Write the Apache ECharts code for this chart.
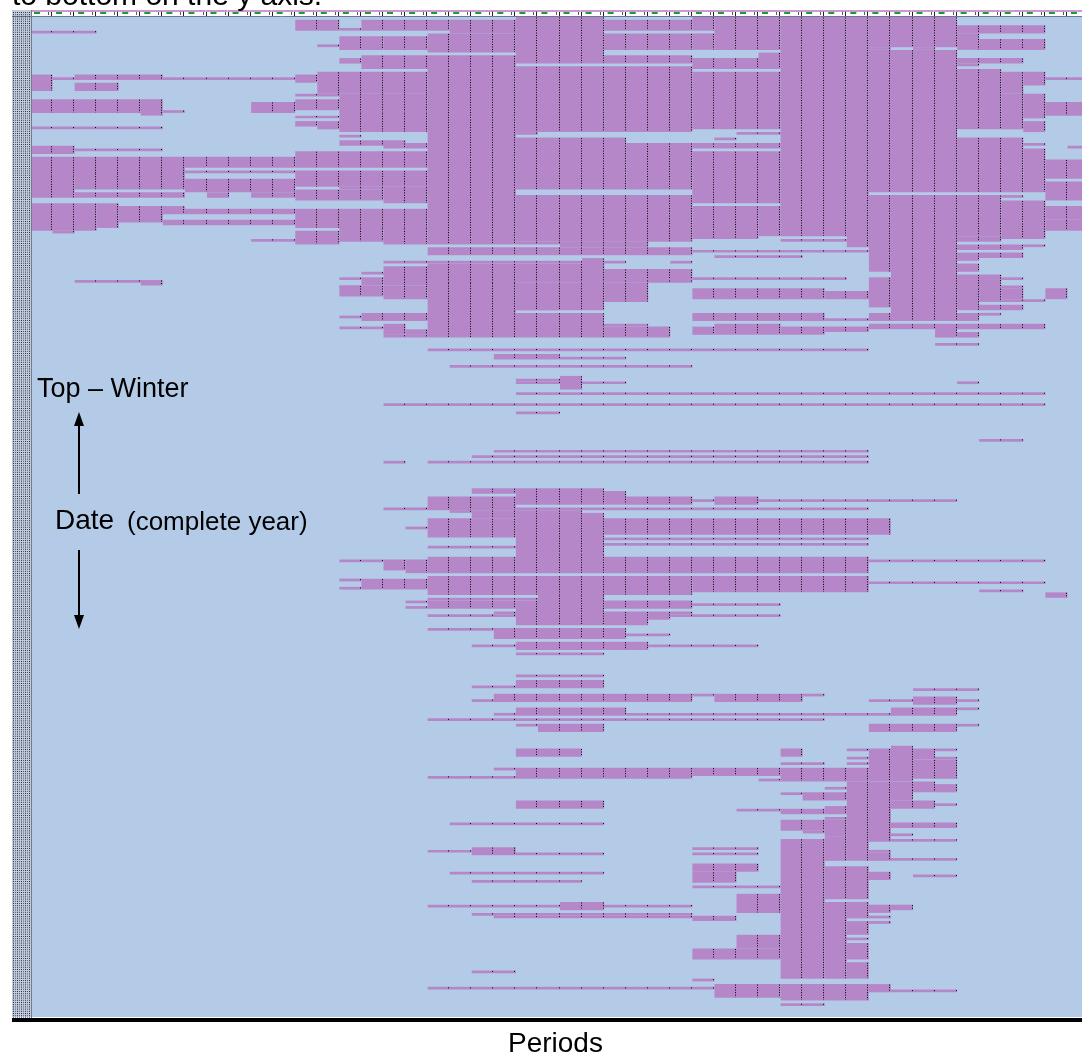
<!DOCTYPE html>
<html>
<head>
<meta charset="utf-8">
<title>Periods by date</title>
<script src="https://cdn.jsdelivr.net/npm/echarts@6/dist/echarts.min.js"></script>
<style>
  html, body { margin: 0; padding: 0; background: #fff; overflow: hidden; }
  #chartBox { width: 1090px; height: 1057px; }
</style>
</head>
<body>
<div id="chartBox"></div>
<script>
  var DAYS = 365;

  // half-hour periods across the x axis
  var periods = [1, 2, 3, 4, 5, 6, 7, 8, 9, 10, 11, 12, 13, 14, 15, 16, 17, 18, 19, 20, 21, 22, 23, 24,
                 25, 26, 27, 28, 29, 30, 31, 32, 33, 34, 35, 36, 37, 38, 39, 40, 41, 42, 43, 44, 45, 46, 47, 48];

  // active runs: [first day, last day, first period, last period] (0-based)
  var winterTop = [
    [5,5,0,2],
    [21,26,0,0],[22,22,1,1],[21,22,2,5],[24,26,2,3],[22,22,6,11],
    [30,34,0,4],[30,35,5,5],[34,34,6,6],[31,34,10,11],
    [40,40,0,5],[47,49,0,1],[48,48,2,5],
    [51,57,0,6],[51,54,7,9],[51,54,10,11],[56,56,7,11],
    [58,65,0,1],[57,62,2,6],[64,65,2,6],[59,63,7,11],[64,65,8,8],[64,65,10,11],
    [68,77,0,2],[68,76,3,3],[69,74,4,5],[69,71,6,6],[70,71,7,11],[74,75,6,11],
    [78,78,1,1],[81,81,10,11],[96,96,2,4],[96,97,5,5],

    [1,4,12,13],[4,4,14,14],[1,4,15,18],[1,5,19,21],
    [0,16,22,25],[18,41,22,25],[1,4,26,29],
    [7,7,14,15],[10,10,13,13],[8,11,14,15],[7,11,16,17],[6,12,18,21],[6,11,26,29],
    [14,18,15,21],[15,16,14,14],[14,16,26,29],[18,41,26,29],
    [21,23,12,12],[20,27,13,17],[19,82,18,21],
    [28,28,12,13],[30,33,12,13],[28,34,14,17],[35,41,14,17],[36,36,12,13],[38,39,12,12],[38,40,13,13],
    [42,42,22,22],[43,43,14,14],[45,46,14,16],[46,47,16,17],
    [49,54,12,17],[56,61,12,17],[62,62,14,15],
    [44,62,22,26],[46,62,27,29],
    [63,66,12,15],[62,67,16,17],[70,76,12,17],[78,82,12,13],[77,81,14,15],[77,82,16,17],
    [65,81,22,29],[82,82,22,25],

    [0,4,30,30],[6,11,30,30],[0,11,31,33],[13,14,33,33],[15,18,30,33],[20,40,30,33],
    [42,42,32,33],[44,44,31,31],[46,47,30,33],[49,67,30,33],[69,80,30,32],[69,79,33,33],
    [0,79,34,36],[81,81,34,36],[0,83,37,37],
    [0,10,38,41],[11,11,38,38],[11,11,40,40],[12,63,38,41],
    [65,92,38,38],[95,105,38,38],[65,107,39,41],
    [3,5,42,45],[6,11,42,42],[8,11,43,45],[15,16,42,44],[17,17,42,42],
    [19,40,42,43],[20,27,44,44],[28,40,44,44],[20,24,45,45],[28,36,45,45],[38,41,45,45],
    [45,45,43,43],[44,63,42,44],[46,46,45,45],[48,63,45,45],
    [65,79,42,43],[65,65,44,44],[67,80,44,45],[80,81,42,43],
    [22,22,46,47],[31,35,46,47],[47,47,47,47],[52,58,46,47],[60,66,46,47],[69,73,46,47],[74,77,46,47]
  ];

  var springMid = [
    [83,84,42,44],[83,83,45,45],[86,88,42,42],[86,87,43,44],[90,92,42,42],
    [94,98,42,43],[95,95,44,44],[98,98,44,44],[99,99,42,44],[99,106,42,42],[99,103,43,43],
    [100,102,44,44],[103,103,44,45],[105,106,43,44],[108,108,43,43],[99,102,46,46],
    [82,83,24,27],[84,86,18,29],[89,89,16,26],[89,89,29,29],[90,91,18,25],[88,96,25,25],
    [93,93,15,15],[93,93,17,17],[91,97,16,21],[95,95,14,14],[98,98,14,14],[95,97,15,15],
    [91,96,22,25],[92,95,26,29],[96,96,26,29],[97,103,26,27],
    [98,101,14,15],[98,102,16,17],[97,107,18,21],[97,106,22,25],[106,106,22,23],
    [108,110,15,17],[108,116,18,25],[109,109,14,14],[112,112,25,27],[113,113,14,15],
    [112,115,16,16],[114,115,17,17],[116,116,16,17],[113,116,26,28],
    [121,121,18,29],[123,124,21,23],[124,124,24,26],
    [85,85,30,37],[87,87,31,34],[95,95,30,36],[99,102,30,35],[100,102,36,37],
    [108,110,30,34],[108,110,35,35],[110,110,36,37],
    [112,115,31,33],[113,115,30,30],[113,115,34,35],[113,114,36,37],[121,121,30,37],
    [108,110,38,42],[112,113,38,45],[113,116,41,41],[115,116,42,42],[119,119,41,42],
    [127,127,19,29],[132,132,22,23],[131,135,24,24],[133,133,22,26],[133,133,42,42],
    [137,137,22,45],[141,141,16,45],[144,144,22,23],[154,154,43,44],
    [158,158,21,37],[160,160,20,37],[162,162,16,16],[162,162,18,37],
    [172,173,20,21],[172,177,22,25],[173,177,26,26],[175,177,27,29],[176,176,30,30],
    [175,177,31,32],[176,176,33,41],
    [175,179,18,21],[179,179,16,17],[179,179,22,37],
    [180,180,19,19],[180,182,20,21],[180,195,22,24],[181,195,25,25],
    [183,189,18,21],[186,186,17,17],[183,188,26,38],
    [190,190,26,37],[192,192,26,37],[193,193,18,21],
    [196,202,22,25],[197,202,18,21],[198,201,16,16],[198,202,17,17],[198,198,14,15],
    [197,202,26,37],[198,198,38,45],
    [204,210,18,29],[205,208,15,17],[205,205,14,14],[208,208,14,14],[204,209,30,37],[206,206,38,45],
    [209,209,43,44],[210,211,46,46],
    [211,221,23,25],[213,221,22,22],[212,212,18,22],[213,215,18,21],[213,213,17,17],[215,215,17,17],
    [213,215,26,29],[214,214,30,33],
    [217,217,21,21],[217,221,26,27],[217,219,28,28],[217,217,29,29],[218,218,18,21],[218,218,29,33],
    [223,223,18,20],[223,226,21,26],[225,225,27,28],
    [228,230,22,27],[229,229,20,21],[229,229,28,32]
  ];

  var autumnLow = [
    [232,232,22,25],[240,240,22,25],[242,244,22,25],[244,244,20,21],[245,245,40,42],
    [247,249,21,29],[247,247,30,30],[247,249,31,34],[247,247,35,35],[249,249,20,20],
    [249,249,38,39],[248,250,40,41],[249,249,42,42],
    [252,254,22,26],[254,254,27,38],[252,254,39,41],[252,252,42,42],[254,254,21,21],
    [256,256,18,35],
    [258,258,22,22],[258,260,23,25],[258,260,38,41],[258,258,42,42],
    [267,269,22,24],[267,269,34,34],[267,267,37,37],[267,278,38,38],[266,278,39,39],
    [267,270,40,40],[267,267,41,41],[270,270,41,41],[271,277,40,41],
    [270,270,37,37],[272,272,37,37],[272,272,34,35],
    [274,277,22,29],[274,276,30,33],[274,278,34,37],[274,274,21,21],[277,277,18,21],[278,278,33,33],
    [279,307,37,37],[279,299,38,38],[279,282,39,40],[280,282,41,41],[282,285,39,39],
    [281,281,36,36],[283,283,34,34],[283,285,35,36],
    [286,288,22,25],[286,288,39,40],[287,287,41,41],
    [289,289,32,33],[289,290,34,35],[288,290,36,36],[292,292,36,36],
    [294,294,19,25],[293,296,34,35],[293,298,36,36],[294,295,39,41],
    [297,297,35,35],[298,298,39,39],
    [300,350,34,35],[299,307,36,36],[310,321,36,37],[323,350,36,36],
    [323,328,37,37],[330,334,37,37],[336,336,37,37],[338,343,37,37],[345,350,37,37],
    [300,300,38,41],[304,304,38,38],[305,307,38,38],[307,307,39,41],[312,314,38,38],
    [313,313,40,41],[324,326,38,38],[324,325,39,39],[328,328,38,38],[330,330,38,38],
    [353,358,34,37],[353,355,38,38],[355,355,39,41],[360,360,34,35],
    [303,303,30,32],[305,305,30,32],
    [304,304,18,19],[303,305,20,21],[305,305,22,25],
    [309,311,30,32],[312,315,30,31],[312,312,19,25],[315,315,20,24],
    [317,317,30,33],[320,326,32,33],
    [323,325,24,25],[324,324,18,29],[327,327,20,29],[328,328,21,29],[328,329,30,31],
    [335,339,32,33],[340,343,30,33],[348,348,20,21],[351,351,30,30],
    [353,357,31,33],[354,354,18,30]
  ];

  var PURPLE = '#b587c8';
  var SKY = '#b4cbe8';

  var runs = winterTop.concat(springMid, autumnLow).map(function (r) {
    return [r[2], r[3], r[0], r[1]];
  });

  function renderRun(params, api) {
    var p0 = api.value(0), p1 = api.value(1), d0 = api.value(2), d1 = api.value(3);
    var bw = api.size([1, 0])[0];
    var a = api.coord([p0, d0]);
    var b = api.coord([p1, d1 + 1]);
    var x0 = a[0] - bw / 2 + 1.5, x1 = b[0] + bw / 2 + 1.5;
    var kids = [{
      type: 'rect',
      shape: {x: x0, y: a[1], width: x1 - x0, height: b[1] - a[1]},
      style: {fill: PURPLE}
    }];
    for (var p = p0; p <= p1; p++) {
      var xe = Math.round(api.coord([p, d0])[0] + bw / 2) + 0.5;
      kids.push({
        type: 'line',
        shape: {x1: xe, y1: a[1] + 0.5, x2: xe, y2: b[1] - 0.5},
        style: {stroke: '#000', lineWidth: 1, lineDash: [1, 1.5]}
      });
    }
    return {type: 'group', children: kids};
  }

  // the little column-header strip along the top
  function renderHead(params, api) {
    var i = api.value(0);
    var bw = api.size([1, 0])[0];
    var xl = api.coord([i, 0])[0] - bw / 2;
    var xr = Math.round(xl + bw) + 0.5;
    return {
      type: 'group',
      children: [
        {type: 'rect', shape: {x: xl, y: 10, width: bw, height: 2}, style: {fill: '#c99ad2'}},
        {type: 'rect', shape: {x: xl + 5, y: 12, width: 6, height: 2}, style: {fill: '#1f9a2c'}},
        {type: 'line', shape: {x1: xr, y1: 11, x2: xr, y2: 16}, style: {stroke: '#222', lineWidth: 1}},
        {type: 'line', shape: {x1: xr - 3, y1: 12, x2: xr - 3, y2: 15}, style: {stroke: '#555', lineWidth: 1}}
      ]
    };
  }

  // row-number strip down the left edge
  var rowDots = [];
  [13.5, 15.5, 17.5, 19.5, 21.5, 23.5, 25.5, 27.5, 29.5].forEach(function (x, k) {
    rowDots.push({
      type: 'line', z: 101,
      shape: {x1: x, y1: 12, x2: x, y2: 1018},
      style: {stroke: k % 2 ? '#4a5876' : '#1e2a44', lineWidth: 1, lineDash: [1, 1.2]}
    });
  });

  var chartBox = echarts.init(document.getElementById('chartBox'));

  var option = {
    animation: false,
    grid: {
      left: 29, top: 17, width: 1059, height: 1000,
      show: true, backgroundColor: SKY, borderWidth: 0
    },
    xAxis: {
      type: 'category', data: periods, boundaryGap: true, show: false
    },
    yAxis: {
      type: 'value', min: 0, max: DAYS, inverse: true, show: false
    },
    series: [
      {
        type: 'custom',
        renderItem: renderHead,
        data: periods.map(function (p, i) { return [i, 0]; }),
        encode: {x: 0, y: 1},
        silent: true
      },
      {
        type: 'custom',
        renderItem: renderRun,
        data: runs,
        encode: {x: [0, 1], y: [2, 3]},
        silent: true
      }
    ],
    graphic: [
      // cut-off title line above the sheet
      {type: 'text', left: 12, top: -18, z: 100,
        style: {text: 'to bottom on the y axis.', font: '30px "Liberation Sans", Arial', fill: '#000'}},
      {type: 'rect', z: 100, shape: {x: 12, y: 10, width: 20, height: 1008}, style: {fill: '#c3cbda'}}
    ].concat(rowDots).concat([
      {type: 'line', z: 101, shape: {x1: 31.5, y1: 10, x2: 31.5, y2: 1018}, style: {stroke: '#6f7c96', lineWidth: 1}},
      {type: 'line', z: 100, shape: {x1: 12, y1: 16.5, x2: 1090, y2: 16.5}, style: {stroke: '#6b7894', lineWidth: 1}},
      {type: 'rect', z: 100, shape: {x: 12, y: 1017, width: 1078, height: 1}, style: {fill: '#ffffff'}},
      {type: 'rect', z: 100, shape: {x: 12, y: 1018, width: 1078, height: 4}, style: {fill: '#000000'}},

      {type: 'text', left: 37, top: 376, z: 100,
        style: {text: 'Top \u2013 Winter', font: '27px "Liberation Sans", Arial', fill: '#000'}},
      {type: 'line', z: 100, shape: {x1: 79, y1: 424, x2: 79, y2: 494}, style: {stroke: '#000', lineWidth: 2}},
      {type: 'polygon', z: 100, shape: {points: [[79, 412], [74, 426], [84, 426]]}, style: {fill: '#000'}},
      {type: 'text', left: 55, top: 507, z: 100,
        style: {text: 'Date', font: '28px "Liberation Sans", Arial', fill: '#000'}},
      {type: 'text', left: 127, top: 510, z: 100,
        style: {text: '(complete year)', font: '26px "Liberation Sans", Arial', fill: '#000'}},
      {type: 'line', z: 100, shape: {x1: 79, y1: 550, x2: 79, y2: 616}, style: {stroke: '#000', lineWidth: 2}},
      {type: 'polygon', z: 100, shape: {points: [[79, 629], [74, 615], [84, 615]]}, style: {fill: '#000'}},
      {type: 'text', left: 508, top: 1030, z: 100,
        style: {text: 'Periods', font: '28px "Liberation Sans", Arial', fill: '#000'}}
    ])
  };

  chartBox.setOption(option);
  window.onresize = chartBox.resize;
</script>
</body>
</html>
